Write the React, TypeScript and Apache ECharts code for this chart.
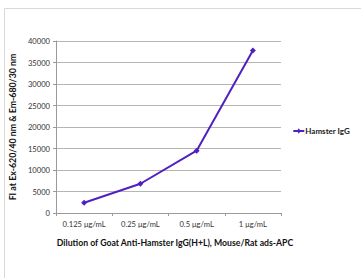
import React, { useEffect, useRef } from "react";
import * as echarts from "echarts";

const categories = ["0.125 μg/mL", "0.25 μg/mL", "0.5 μg/mL", "1 μg/mL"];
const hamsterIgG = [2400, 6800, 14500, 37800];
const seriesName = "Hamster IgG";
const yTitle = "FI at Ex-620/40 nm & Em-680/30 nm";
const xTitle = "Dilution of Goat Anti-Hamster IgG(H+L), Mouse/Rat ads-APC";

const FONT = "Lato, 'Open Sans', sans-serif";
const PURPLE = "#5020c0";

export default function App() {
  const ref = useRef<HTMLDivElement>(null);
  useEffect(() => {
    if (!ref.current) return;
    const chart = echarts.init(ref.current, undefined, { renderer: "svg" });
    chart.setOption({
      animation: false,
      backgroundColor: "#fff",
      graphic: [
        {
          type: "rect",
          shape: { x: 4.5, y: 8.5, width: 400, height: 300 },
          style: { fill: "none", stroke: "#d9d9d9", lineWidth: 1 },
          silent: true,
        },
      ],
      grid: { left: 56, right: 80, top: 41, bottom: 65 },
      legend: {
        data: [seriesName],
        right: 6,
        top: 122,
        itemWidth: 11,
        itemHeight: 6,
        itemGap: 2,
        padding: 5,
        textStyle: { fontFamily: FONT, fontWeight: "bold", fontSize: 8, color: "#222", padding: [0, 0, 0, -4] },
        icon: "path://M0,4 L12,4 L12,6 L0,6 Z M6,2 L8,5 L6,8 L4,5 Z",
      },
      xAxis: {
        type: "category",
        data: categories,
        name: xTitle,
        nameLocation: "middle",
        nameGap: 25,
        nameTextStyle: {
          fontFamily: FONT,
          fontWeight: "bold",
          fontSize: 8.7,
          color: "#111",
          padding: [0, 0, 0, 13],
        },
        axisLine: { lineStyle: { color: "#9a9a9a" } },
        axisTick: { show: true, length: 3, lineStyle: { color: "#9a9a9a" } },
        axisLabel: { fontFamily: FONT, fontSize: 7.6, color: "#333", margin: 7, interval: 0 },
      },
      yAxis: {
        type: "value",
        min: 0,
        max: 40000,
        interval: 5000,
        name: yTitle,
        nameLocation: "middle",
        nameGap: 38,
        nameTextStyle: { fontFamily: FONT, fontWeight: "bold", fontSize: 8.8, color: "#111" },
        axisLine: { show: true, lineStyle: { color: "#9a9a9a" } },
        axisTick: { show: true, length: 3, lineStyle: { color: "#9a9a9a" } },
        axisLabel: {
          fontFamily: FONT,
          fontSize: 7.6,
          color: "#333",
          margin: 6,
          formatter: (v: number) => String(v),
        },
        splitLine: { lineStyle: { color: "#b5b5b5" } },
      },
      series: [
        {
          name: seriesName,
          type: "line",
          data: hamsterIgG,
          symbol: "diamond",
          symbolSize: 6,
          lineStyle: { color: PURPLE, width: 2 },
          itemStyle: { color: PURPLE },
        },
      ],
    });
    return () => chart.dispose();
  }, []);
  return (
    <div
      ref={ref}
      style={{ position: "fixed", left: 0, top: 0, width: 361, height: 278 }}
    />
  );
}
